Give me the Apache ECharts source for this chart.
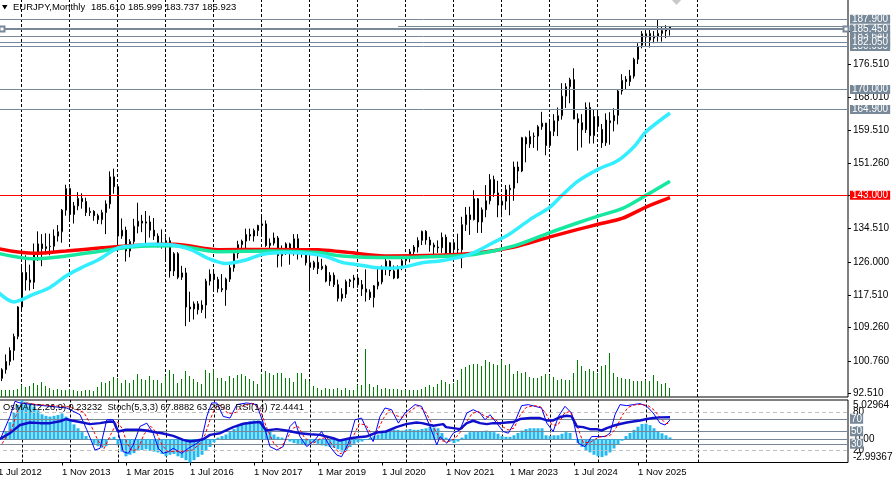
<!DOCTYPE html>
<html><head><meta charset="utf-8">
<script src="https://cdn.jsdelivr.net/npm/echarts@6/dist/echarts.min.js"></script>
<style>html,body{margin:0;padding:0;background:#fff;overflow:hidden}#c{width:893px;height:484px}</style>
</head><body><div id="c"></div>
<script>
// ---------- data (monthly EURJPY, Aug 2012 .. Jul 2026; index 1..168) ----------
const monthNames = ['Jan','Feb','Mar','Apr','May','Jun','Jul','Aug','Sep','Oct','Nov','Dec'];
const opens = [
96.3,98.5,100.6,103.4,107.0,
114.5,123.3,121.4,120.8,128.4,130.6,129.4,129.9,130.0,132.6,133.7,139.2,
144.7,138.1,140.3,142.2,141.4,138.6,138.9,137.8,136.8,138.6,140.8,147.7,
145.2,132.6,134.1,128.8,131.2,135.1,136.4,135.9,136.2,134.1,132.6,130.2,
130.8,131.4,123.7,128.1,122.1,123.2,114.5,114.0,115.3,113.8,115.0,121.1,
122.9,121.5,119.2,118.9,121.6,124.5,128.1,130.4,131.3,133.0,132.6,134.0,
135.3,135.7,130.2,130.8,132.1,127.6,129.4,130.6,128.9,131.9,128.1,128.4,
125.8,124.6,125.9,124.3,124.9,121.1,122.6,120.2,116.7,117.8,121.0,121.4,
121.9,120.2,119.1,118.3,116.9,119.9,120.9,124.6,126.2,123.7,121.9,124.5,
126.3,127.1,128.6,129.8,131.5,133.8,131.6,130.3,129.8,129.6,132.3,128.2,
130.9,129.2,129.1,135.5,138.0,136.8,142.1,136.2,139.3,141.6,147.0,143.6,
140.5,141.5,144.4,144.8,150.2,149.2,157.7,156.1,158.0,158.1,160.5,161.4,
155.7,159.3,162.0,163.3,168.3,170.7,172.5,162.5,161.5,159.7,165.4,158.2,
163.1,159.8,156.4,161.5,162.0,163.4,169.6,172.0,172.0,173.4,177.7,181.3,
184.2,182.6,183.6,183.5,184.3,184.9,185.610];
const highs = [
98.9,102.4,104.2,107.7,114.7,
124.9,127.7,125.3,130.7,133.8,133.1,133.3,133.2,134.3,135.4,139.5,145.7,
145.0,141.3,143.8,143.5,142.4,139.9,139.2,138.3,139.3,141.7,149.1,149.8,
145.4,137.1,135.0,131.8,137.0,141.1,138.0,139.0,137.8,137.2,133.3,134.3,
132.3,132.3,128.5,128.5,125.0,124.5,118.4,115.9,116.0,116.2,121.7,124.1,
124.1,122.2,122.9,122.0,125.8,128.5,131.4,131.7,134.5,134.5,134.5,135.5,
137.5,136.6,132.0,133.5,132.6,130.2,131.0,130.9,133.1,133.1,129.3,129.3,
127.3,126.3,127.5,126.8,125.3,123.4,123.3,121.5,119.3,121.5,121.7,122.7,
122.6,121.4,124.1,119.0,120.1,124.4,125.1,126.8,126.4,125.1,125.1,127.1,
127.5,129.3,130.3,132.3,134.0,134.1,132.4,130.9,131.5,133.5,133.0,131.0,
131.6,133.2,137.5,140.0,140.1,144.3,142.3,139.9,145.6,148.4,148.0,146.7,
142.9,145.6,145.7,151.6,151.6,157.9,158.0,159.5,159.0,160.9,164.3,161.5,
161.9,163.7,165.4,171.6,171.6,173.0,175.4,163.9,163.7,166.7,166.7,164.9,
164.9,161.2,163.9,164.2,165.2,169.9,173.9,173.4,175.0,178.1,181.8,184.9,
185.2,185.6,184.9,187.7,186.0,186.4,185.999];
const lows = [
95.6,97.5,99.6,100.9,106.3,
113.9,118.7,118.7,119.1,126.3,124.9,127.9,127.7,128.5,131.2,130.9,137.8,
136.2,135.8,139.2,139.6,137.7,137.7,136.5,135.7,135.6,133.1,139.6,143.4,
130.2,131.9,126.1,127.2,130.6,133.3,133.6,130.4,132.2,131.6,129.7,129.4,
126.1,122.0,122.4,121.6,121.4,109.6,110.7,111.3,112.6,113.0,111.6,120.0,
118.8,118.2,118.3,114.8,120.9,123.5,126.9,128.5,129.3,131.4,131.2,132.6,
133.1,129.8,128.9,130.2,124.6,124.8,127.8,125.3,127.6,126.6,127.1,125.1,
118.8,124.0,122.9,123.9,120.8,119.9,119.6,115.9,115.9,116.8,119.6,119.3,
119.4,117.3,115.9,116.3,114.4,119.0,120.3,122.6,122.4,121.6,121.7,123.9,
125.1,125.9,127.8,128.4,130.3,130.4,128.6,127.9,128.3,128.3,127.6,127.7,
127.4,127.4,124.4,133.9,132.9,136.6,133.4,133.4,137.4,140.7,142.6,137.4,
137.4,139.3,137.9,141.6,146.1,148.9,151.4,155.1,155.1,154.4,159.7,153.2,
155.1,158.1,158.1,162.3,165.3,166.5,162.4,154.4,155.2,158.9,156.2,156.2,
159.5,155.1,155.6,155.9,159.3,161.1,168.7,170.0,170.9,172.8,176.5,180.5,
180.9,180.7,181.8,182.2,182.2,183.1,183.737];
const closes = [
98.5,100.6,103.4,107.0,114.5,
123.3,121.4,120.8,128.4,130.6,129.4,129.9,130.0,132.6,133.7,139.2,144.7,
138.1,140.3,142.2,141.4,138.6,138.9,137.8,136.8,138.6,140.8,147.7,145.2,
132.6,134.1,128.8,131.2,135.1,136.4,135.9,136.2,134.1,132.6,130.2,130.8,
131.4,123.7,128.1,122.1,123.2,114.5,114.0,115.3,113.8,115.0,121.1,122.9,
121.5,119.2,118.9,121.6,124.5,128.1,130.4,131.3,133.0,132.6,134.0,135.3,
135.7,130.2,130.8,132.1,127.6,129.4,130.6,128.9,131.9,128.1,128.4,125.8,
124.6,125.9,124.3,124.9,121.1,122.6,120.2,116.7,117.8,121.0,121.4,121.9,
120.2,119.1,118.3,116.9,119.9,120.9,124.6,126.2,123.7,121.9,124.5,126.3,
127.1,128.6,129.8,131.5,133.8,131.6,130.3,129.8,129.6,132.3,128.2,130.9,
129.2,129.1,135.5,138.0,136.8,142.1,136.2,139.3,141.6,147.0,143.6,140.5,
141.5,144.4,144.8,150.2,149.2,157.7,156.1,158.0,158.1,160.5,161.4,155.7,
159.3,162.0,163.3,168.3,170.7,172.5,162.5,161.5,159.7,165.4,158.2,163.1,
160.6,156.4,162.2,162.0,163.4,169.6,172.3,172.6,173.5,177.7,180.9,184.2,
183.4,184.3,183.1,184.3,185.0,185.6,185.923];
// tick volume (relative units)
const volumes = [
70,70,70,70,80,
120,100,110,140,120,150,110,90,70,80,70,70,
80,70,60,60,70,70,60,100,150,140,160,200,
190,140,170,140,170,230,180,170,210,170,170,140,
210,270,230,140,180,260,210,180,150,130,270,240,
280,190,190,160,210,190,220,230,210,180,160,130,
230,260,240,220,240,240,190,190,150,240,240,180,
160,110,90,70,90,80,80,90,70,90,70,70,
120,120,480,130,100,120,80,90,80,80,80,70,
70,70,70,70,80,100,120,100,130,170,150,130,
140,170,280,300,320,330,330,310,370,350,330,320,
370,320,330,230,260,240,250,200,190,190,210,230,
220,200,170,180,170,170,240,370,310,260,280,260,
240,310,320,440,240,200,190,180,180,160,160,160,
170,160,220,160,130,140,90];
// OsMA(12,26,9)
const osma = [
0.3,1.0,2.2,3.4,4.4,
5.0,4.8,4.6,4.2,3.7,3.2,3.0,2.9,3.0,3.1,3.3,2.9,
2.4,1.9,1.4,0.9,0.4,-0.1,-0.6,-0.9,-1.1,-0.9,0.1,0.3,
-0.8,-1.6,-2.2,-2.0,-1.8,-1.5,-1.4,-1.3,-1.5,-1.6,-1.7,-1.9,
-2.2,-2.0,-1.9,-2.2,-2.4,-2.7,-2.99,-2.7,-2.3,-2.0,-1.5,-1.0,
-0.4,0.2,0.4,0.6,0.9,1.3,1.7,2.0,2.2,2.3,2.4,2.4,
2.3,1.5,1.0,0.6,0.3,0.2,-0.1,-0.3,-0.5,-0.6,-0.7,-0.8,
-0.6,-0.5,-0.6,-0.8,-0.9,-1.0,-1.1,-1.3,-1.6,-1.4,-1.0,-0.6,
-0.4,-0.3,-0.1,0.2,0.4,0.6,0.9,1.1,1.2,1.2,1.2,1.1,
1.2,1.3,1.2,1.2,1.3,1.4,1.6,1.5,1.4,0.8,0.2,-0.3,
-0.5,-0.3,0.2,0.6,0.9,1.0,1.0,1.0,1.1,1.0,0.9,0.7,
0.4,0.3,0.3,0.5,0.8,1.1,1.3,1.4,1.4,1.4,1.4,0.5,
0.4,0.5,0.5,0.7,0.9,0.8,-0.1,-0.5,-1.0,-1.4,-1.7,-2.0,
-2.2,-2.3,-2.1,-1.7,-1.2,-0.7,-0.2,0.4,0.8,1.2,1.6,1.95,
2.0,1.8,1.4,0.95,0.75,0.5,0.23232];
// Stochastic(5,3,3) main and signal, RSI(14): [month index, value]
const stochMain = [[0.5,36.2],[3,73.8],[4.25,98],[5.5,95.3],[8.8,92.6],[17.2,87.2],[20.5,76.5],[22.2,52.3],[24.25,20],[25.5,22.7],[27.2,68.4],[28.8,68.4],[30.1,46.9],[31.3,17.3],[32.6,14.7],[33.8,28.1],[35.5,57.7],[37.2,63],[38.8,46.9],[40.1,22.7],[41.3,14.7],[42.6,17.3],[43.8,22.7],[45.9,14.7],[47.6,22.7],[49.7,30.8],[50.9,36.2],[52.2,73.8],[53.4,95.3],[54.7,95.3],[56.3,73.8],[58,71.1],[59.7,92.6],[62.2,95.3],[64.7,92.6],[66.3,63],[68,25.4],[69.7,20],[71.3,25.4],[73,57.7],[74.25,65.7],[75.5,41.5],[77.2,25.4],[79.25,36.2],[80.9,49.6],[83,25.4],[84.7,12],[85.9,9.3],[87.6,30.8],[89.25,68.4],[90.9,71.1],[92.6,46.9],[93.8,33.5],[95.5,73.8],[96.75,87.2],[98.4,84.5],[100.1,63],[101.75,79.2],[104.25,92.6],[105.9,89.9],[108,57.7],[109.7,28.1],[110.5,41.5],[112.2,30.8],[113.8,46.9],[115.5,52.3],[117.2,79.2],[118.8,84.5],[120.5,79.2],[121.75,68.4],[123,76.5],[124.7,63],[126.3,49.6],[127.6,46.9],[129.25,65.7],[130.9,91],[132.6,92.6],[134.25,89.9],[135.9,87.2],[137.2,63],[138.8,49.6],[140.1,73.8],[141.75,89.9],[143.4,79.2],[145.1,30.8],[146.75,25.4],[148.4,41.5],[150.1,41.5],[151.75,41.5],[153,46.9],[154.25,76.5],[155.5,92.6],[157.2,91],[158.8,92.6],[160.5,94.2],[162.2,89.9],[163.8,79.2],[165.5,63],[166.75,60],[168,67.8882]];
const stochSignal = [[1,30],[3.5,55],[5,85],[6.5,96],[9.5,93],[18,89],[21.5,80],[23.2,60],[25,35],[26.5,22],[28.2,45],[29.8,65],[31,55],[32.3,30],[33.6,18],[35,22],[36.5,45],[38.2,58],[39.6,48],[41,28],[42.5,17],[44.5,18],[46.8,18],[48.6,20],[50.5,30],[51.8,45],[53,68],[54.3,88],[55.8,92],[57.5,78],[59.5,80],[61,90],[63.5,95],[65.5,85],[67.2,55],[69,30],[70.5,22],[72.2,38],[73.8,55],[75,58],[76.6,40],[78.7,30],[80.5,38],[82.2,40],[84,25],[85.5,14],[87,18],[88.7,40],[90.3,62],[92,60],[93.4,45],[94.8,50],[96.3,70],[97.8,84],[99.5,75],[101.2,72],[103,82],[105,91],[107,80],[109,55],[110.8,35],[112.5,33],[114.2,38],[115.5,48],[116.8,62],[118.5,78],[120,82],[121.5,75],[122.8,72],[124.2,70],[126,58],[127.5,52],[129,55],[130.5,75],[132,88],[134,91],[135.7,89],[137,78],[138.5,60],[140,60],[141.5,78],[143,82],[144.7,60],[146.3,32],[148,32],[150,40],[151.5,42],[153,43],[154.5,55],[156,75],[157.5,88],[159,92],[160.8,93],[162.5,91],[164,84],[165.5,72],[167,62],[168,63.2898]];
const rsi = [[0.5,37.8],[3,47],[5.5,60],[8,64],[10.5,63],[13,63],[15.5,66],[17,69.5],[18.4,67.3],[20.5,64.7],[23,61.4],[25.5,63],[28,65.7],[29,64.7],[30,49.6],[32,52.3],[35.5,52.3],[37,51.2],[39.7,48],[41,46.9],[43.8,42.6],[46.3,36.2],[48,33.5],[49.7,35.1],[51.3,37.2],[53,44.2],[55.5,46.9],[58.8,56.6],[61.3,62],[63.8,64.1],[65.5,64.7],[67,51.2],[69.7,53.4],[72,51.2],[75.5,46.9],[78,45.3],[80.5,44.2],[83.8,38.8],[85.5,35.1],[88,38.8],[90,40.5],[92,41.5],[94.7,48],[97,49.6],[99.6,56.6],[102,61.4],[104.6,64.1],[106,63],[108.8,58.7],[111.3,61.4],[112,56.6],[113.8,55],[115.5,53.4],[117.2,63],[118.8,66.8],[120.5,63],[122.2,61.4],[123.8,63],[125.5,63],[127.2,64.1],[128.8,64.7],[130.5,69.5],[133,71.1],[135.5,71.1],[137.2,67.3],[138.8,67.3],[140.5,72.7],[142.2,74.9],[143.4,73.8],[144.7,57.7],[146.3,56.6],[148,53.4],[149.7,53.4],[150.9,51.2],[152.2,55],[153.8,58.7],[155.5,61.5],[157.2,64.1],[158.8,65.7],[160.5,67.3],[162.2,69.5],[163.8,71.1],[165.5,72.2],[168,72.4441]];
// moving averages: [month index, value]
const maFast = [[0,118.3],[4,115.8],[9,117.8],[13,119.5],[17,122.4],[21,124.6],[25,126.5],[30,129.6],[34,130.1],[38,130.5],[43,130.4],[48,129.2],[53,126.7],[57,125.6],[62,126.5],[66,127.9],[72,128.4],[78,128.1],[82,127.4],[86,125.9],[90,125.3],[94,124.6],[98,124.4],[102,124.8],[106,125.8],[110,126.2],[115,127.1],[119,128.4],[123,130.5],[128,133.2],[133,136.8],[138,140.0],[141,143.0],[145,146.6],[150,149.6],[155,151.9],[159,155.4],[162,159.2],[168,164.0]];
const maMid = [[0,128.2],[9,126.8],[17,127.5],[26,128.8],[34,129.9],[44,130.1],[55,128.6],[68,128.8],[80,128.4],[86,127.5],[98,127.1],[110,127.4],[119,127.9],[129,130.1],[138,133.5],[145,136.0],[150,137.7],[156,139.6],[162,143.0],[168,146.6]];
const maSlow = [[0,129.4],[9,128.2],[17,128.8],[26,129.6],[34,130.2],[44,130.5],[55,129.1],[68,129.2],[80,129.1],[86,128.6],[98,127.5],[110,127.7],[119,128.2],[129,129.8],[138,132.4],[145,134.3],[150,135.6],[156,137.1],[162,140.0],[168,142.4]];
// horizontal price levels (drawing order: later on top)
const greyLevels = [187.9, 183.64, 185.45, 180.95, 182.05, 170.0, 164.9];
const redLevel = 143.0;
const partialLevel = 186.19;
// axis ticks
const priceTicks = [92.51,100.76,109.26,117.51,126.00,134.51,151.26,159.51,168.01,176.51];
const priceTickMarks = [92.51,100.76,109.26,117.51,126.00,134.51,143.01,151.26,159.51,168.01,176.51,184.91];
const timeLabelIdx = [0,16,32,48,64,80,96,112,128,144,160];
const gridIdx = [6,18,30,42,54,66,78,90,102,114,126,138,150,162,175];
const osmaMax = 5.02964, osmaMin = -2.99367;
const stochLevels = [80,70,50,30,20];

// ---------- build ----------
const N = 213;
const categories = [];
for (let i = 0; i < N; i++) { const t = 6 + i; categories.push('1 ' + monthNames[t % 12] + ' ' + (2012 + Math.floor(t / 12))); }
const candleData = ['-'].concat(opens.map((o, i) => [o, closes[i], lows[i], highs[i]]));
const volData = [null].concat(volumes);
const osmaData = osma.map((v, i) => [i + 1, v]);
const FF = '"Liberation Sans", Arial, sans-serif';
const GREY = '#778899';
const last = opens.length - 1;

function boxLabel(text, bg) {
  return { show: true, position: 'end', distance: 2, formatter: text, color: '#fff', backgroundColor: bg,
    padding: [0, 2, 0, 2], fontSize: 10, fontFamily: FF, lineHeight: 9 };
}
const priceLineData = [{ yAxis: redLevel, lineStyle: { color: '#ff0000', width: 1, type: 'solid' }, label: boxLabel(redLevel.toFixed(3), '#ff0000') }]
  .concat(greyLevels.map(v => ({ yAxis: v, lineStyle: { color: GREY, width: v === 185.45 ? 2 : 1, type: 'solid' },
    label: boxLabel(v.toFixed(3), GREY) })));

const chart = echarts.init(document.getElementById('c'), null, { renderer: 'canvas' });
const option = {
  animation: false,
  backgroundColor: '#ffffff',
  textStyle: { fontFamily: FF },
  grid: [
    { left: -4, right: 45, top: -1, height: 398, show: true, borderColor: '#000', borderWidth: 1, backgroundColor: 'transparent', containLabel: false, outerBoundsMode: 'none' },
    { left: -4, right: 45, top: 400, height: 62.5, show: true, borderColor: '#000', borderWidth: 1, backgroundColor: 'transparent', containLabel: false, outerBoundsMode: 'none' }
  ],
  xAxis: [
    { type: 'category', gridIndex: 0, data: categories, boundaryGap: true, axisLine: { show: false }, axisTick: { show: false }, axisLabel: { show: false }, splitLine: { show: false } },
    { type: 'value', gridIndex: 1, min: -0.5, max: N - 0.5, axisLine: { show: false }, splitLine: { show: false },
      axisTick: { show: true, customValues: timeLabelIdx, length: 3, lineStyle: { color: '#000' } },
      axisLabel: { customValues: timeLabelIdx, formatter: v => categories[Math.round(v)], align: 'left', margin: 5, fontSize: 9.5, color: '#000', fontFamily: FF, hideOverlap: false } }
  ],
  yAxis: [
    { type: 'value', gridIndex: 0, position: 'right', min: 91.54, max: 193.08, axisLine: { show: false }, splitLine: { show: false },
      axisTick: { show: true, customValues: priceTickMarks, length: 3, lineStyle: { color: '#000' } },
      axisLabel: { customValues: priceTicks, formatter: v => v.toFixed(3), margin: 5, fontSize: 10, color: '#000', fontFamily: FF } },
    { type: 'value', gridIndex: 0, min: 0, max: 3980, show: false },
    { type: 'value', gridIndex: 1, position: 'right', min: 0, max: 100, axisLine: { show: false }, splitLine: { show: false }, axisTick: { show: false },
      axisLabel: { customValues: [80, 20], margin: 5, fontSize: 10, color: '#000', fontFamily: FF } },
    { type: 'value', gridIndex: 1, position: 'right', min: osmaMin, max: osmaMax, axisLine: { show: false }, splitLine: { show: false }, axisTick: { show: false },
      axisLabel: { customValues: [0], formatter: () => '0.00', margin: 7, fontSize: 10, color: '#000', fontFamily: FF } },
    { type: 'value', gridIndex: 1, position: 'right', min: osmaMin, max: osmaMax, axisLine: { show: false }, splitLine: { show: false }, axisTick: { show: false },
      axisLabel: { customValues: [osmaMax], formatter: () => osmaMax.toFixed(5), verticalAlign: 'top', margin: 5, fontSize: 10, color: '#000', fontFamily: FF } },
    { type: 'value', gridIndex: 1, position: 'right', min: osmaMin, max: osmaMax, axisLine: { show: false }, splitLine: { show: false }, axisTick: { show: false },
      axisLabel: { customValues: [osmaMin], formatter: () => osmaMin.toFixed(5), verticalAlign: 'bottom', margin: 5, fontSize: 10, color: '#000', fontFamily: FF } }
  ],
  series: [
    { name: 'Volume', type: 'bar', xAxisIndex: 0, yAxisIndex: 1, data: volData, barWidth: 1, barGap: '0%', itemStyle: { color: '#008000' }, z: 1, silent: true,
      markLine: { z: 1, silent: true, symbol: 'none', label: { show: false }, lineStyle: { color: '#000', width: 1, type: [3, 2] },
        data: gridIdx.map(k => ({ xAxis: k })) } },
    { name: 'VolumePad', type: 'bar', xAxisIndex: 0, yAxisIndex: 1, data: [], barWidth: 1, barGap: '0%', silent: true },
    { name: 'EURJPY', type: 'candlestick', xAxisIndex: 0, yAxisIndex: 0, data: candleData, barWidth: 2, z: 2,
      itemStyle: { color: '#ffffff', color0: '#000000', borderColor: '#000000', borderColor0: '#000000', borderWidth: 1 },
      markLine: { silent: true, symbol: 'none', data: priceLineData } },
    { name: 'MA slow', type: 'line', xAxisIndex: 0, yAxisIndex: 0, data: maSlow, smooth: 0.3, showSymbol: false, z: 4,
      lineStyle: { color: '#ff0000', width: 3.5 } },
    { name: 'MA mid', type: 'line', xAxisIndex: 0, yAxisIndex: 0, data: maMid, smooth: 0.3, showSymbol: false, z: 4,
      lineStyle: { color: '#16e8a0', width: 3.5 },
      markLine: { silent: true, symbol: 'none', label: { show: false }, lineStyle: { color: GREY, width: 1, type: 'solid' },
        data: [[{ coord: [100, partialLevel] }, { coord: [N - 1, partialLevel] }]] } },
    { name: 'MA fast', type: 'line', xAxisIndex: 0, yAxisIndex: 0, data: maFast, smooth: 0.3, showSymbol: false, z: 4,
      lineStyle: { color: '#33eeff', width: 3.5 },
      markLine: { silent: true, symbol: ['emptyRect', 'emptyRect'], symbolSize: 5, label: { show: false }, lineStyle: { color: GREY, width: 2, type: 'solid' },
        data: [[{ coord: [1, 185.45] }, { coord: [N - 1, 185.45] }]] } },
    { name: 'OsMA', type: 'bar', xAxisIndex: 1, yAxisIndex: 3, data: osmaData, barWidth: 3, itemStyle: { color: '#22b8f2' }, z: 2, silent: true,
      markLine: { z: 1, silent: true, symbol: 'none', label: { show: false },
        data: gridIdx.map(k => ({ xAxis: k, lineStyle: { color: '#000', width: 1, type: [3, 2] } }))
          .concat([{ yAxis: 0, lineStyle: { color: GREY, width: 1, type: 'solid' } }]) } },
    { name: 'Stoch', type: 'line', xAxisIndex: 1, yAxisIndex: 2, data: stochMain, showSymbol: false, z: 4,
      lineStyle: { color: '#0000ff', width: 1 },
      markLine: { z: 3, silent: true, symbol: 'none',
        data: stochLevels.map(v => (v === 80 || v === 20)
          ? { yAxis: v, lineStyle: { color: '#c0c0c0', width: 1, type: [4, 3] }, label: { show: false } }
          : { yAxis: v, lineStyle: { color: GREY, width: 1, type: 'solid' },
              label: { show: true, position: 'end', distance: 2, formatter: String(v), color: '#fff', backgroundColor: GREY, padding: [0, 1, 0, 1], fontSize: 10, lineHeight: 10, fontFamily: FF } }) } },
    { name: 'Signal', type: 'line', xAxisIndex: 1, yAxisIndex: 2, data: stochSignal, showSymbol: false, z: 4,
      lineStyle: { color: '#ff0000', width: 1, type: [3, 2] } },
    { name: 'RSI', type: 'line', xAxisIndex: 1, yAxisIndex: 2, data: rsi, showSymbol: false, z: 5,
      lineStyle: { color: '#1010cc', width: 2.5 } }
  ],
  graphic: [
    { type: 'polygon', z: 100, shape: { points: [[2, 5], [7.5, 5], [4.75, 9.5]] }, style: { fill: '#000' } },
    { type: 'text', z: 100, left: 13, top: 2, style: { text: 'EURJPY,Monthly', font: '9.5px ' + FF, fill: '#000' } },
    { type: 'text', z: 100, left: 91, top: 2, style: { text: [opens[last], highs[last], lows[last], closes[last]].map(v => v.toFixed(3)).join(' '), font: '9.5px ' + FF, fill: '#000' } },
    { type: 'text', z: 100, left: 3, top: 403, style: {
        text: 'OsMA(12,26,9) ' + osma[last].toFixed(5) + '  Stoch(5,3,3) ' + stochMain[stochMain.length - 1][1].toFixed(4) + ' ' + stochSignal[stochSignal.length - 1][1].toFixed(4) + '  RSI(14) ' + rsi[rsi.length - 1][1].toFixed(4),
        font: '9.3px ' + FF, fill: '#000' } },
    { type: 'polygon', z: 100, shape: { points: [[671, -1], [682, -1], [676.5, 5]] }, style: { fill: '#c8c8c8' } }
  ]
};
chart.setOption(option);
</script>
</body></html>
